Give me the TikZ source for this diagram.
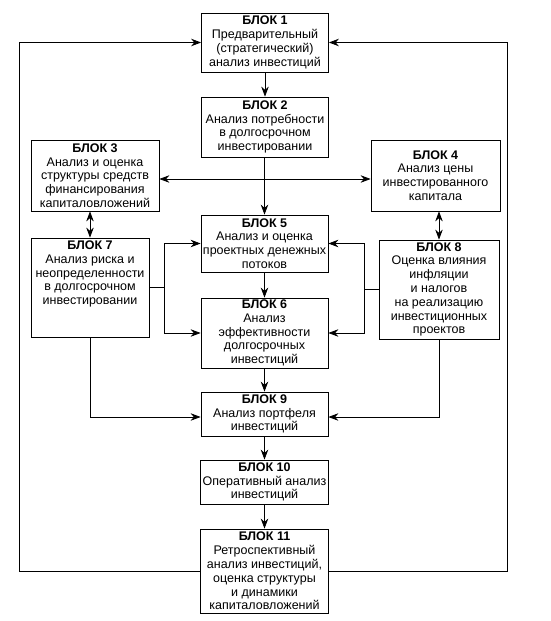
\documentclass[tikz,border=0pt]{standalone}
\usepackage{fontspec}
\setmainfont{Liberation Sans}
\usetikzlibrary{arrows.meta,calc}
\newcommand{\blk}[1]{\textbf{БЛОК #1}}
\tikzset{
  blok/.style={draw,line width=0.8pt,align=center,inner sep=1pt,
    font=\fontsize{12.5}{13.8}\selectfont},
  link/.style={line width=0.8pt}
}
\begin{document}
\begin{tikzpicture}[x=1pt,y=-1pt,>={Stealth[length=10pt,width=7.5pt]}]
  \useasboundingbox (0,0) rectangle (551,621);
  % blocks
  \node[blok,minimum width=127,minimum height=59] (b1) at (265,42.5)
    {\blk{1}\\Предварительный\\(стратегический)\\анализ инвестиций};
  \node[blok,minimum width=127,minimum height=60] (b2) at (265,127)
    {\blk{2}\\Анализ потребности\\в долгосрочном\\инвестировании};
  \node[blok,minimum width=128,minimum height=71] (b3) at (95,175.5)
    {\blk{3}\\Анализ и оценка\\структуры средств\\финансирования\\капиталовложений};
  \node[blok,minimum width=129,minimum height=71] (b4) at (435.5,175.5)
    {\blk{4}\\Анализ цены\\инвестированного\\капитала};
  \node[blok,minimum width=127,minimum height=57] (b5) at (264.5,243.5)
    {\blk{5}\\Анализ и оценка\\проектных денежных\\потоков};
  \node[blok,minimum width=127,minimum height=70] (b6) at (264.5,333)
    {\blk{6}\\Анализ\\эффективности\\долгосрочных\\инвестиций};
  \node[blok,minimum width=118,minimum height=99] (b7) at (90,287.5) {};
  \node[align=center,anchor=north,inner sep=1pt,
    font=\fontsize{12.5}{13.8}\selectfont] (b7t) at ([yshift=-2]b7.north)
    {\blk{7}\\Анализ риска и\\неопределенности\\в долгосрочном\\инвестировании};
  \node[blok,minimum width=120,minimum height=99] (b8) at (439,289.5)
    {\blk{8}\\Оценка влияния\\инфляции\\и налогов\\на реализацию\\инвестиционных\\проектов};
  \node[blok,minimum width=127,minimum height=44] (b9) at (264.5,414)
    {\blk{9}\\Анализ портфеля\\инвестиций};
  \node[blok,minimum width=128,minimum height=44] (b10) at (264.5,482)
    {\blk{10}\\Оперативный анализ\\инвестиций};
  \node[blok,minimum width=128,minimum height=84] (b11) at (264.5,571)
    {\blk{11}\\Ретроспективный\\анализ инвестиций,\\оценка структуры\\и динамики\\капиталовложений};
  % main chain
  \draw[link,->] (b1) -- (b2);
  \draw[link,->] (b2.south -| b5.north) -- (b5.north);
  \draw[link,->] (b5) -- (b6);
  \draw[link,->] (b6) -- (b9);
  \draw[link,->] (b9) -- (b10);
  \draw[link,->] (b10) -- (b11);
  % sides
  \draw[link,<->] ([yshift=-3.5]b3.east) -- ([yshift=-3.5]b4.west);
  \draw[link,<->] (b3.south -| b7.north) -- (b7.north);
  \draw[link,<->] (b4.south -| b8.north) -- (b8.north);
  \draw[link] (b7.east) -- ++(15,0) coordinate (l);
  \draw[link,->] (l) |- (b5.west);
  \draw[link,->] (l) |- (b6.west);
  \draw[link] (b8.west) -- ++(-14,0) coordinate (r);
  \draw[link,->] (r) |- (b5.east);
  \draw[link,->] (r) |- (b6.east);
  \draw[link,->] (b7.south) |- ([yshift=-3]b9.west);
  \draw[link,->] (b8.south) |- ([yshift=-3]b9.east);
  % feedback loop
  \draw[link,->] (b11.west) -- (19,571) |- (b1.west);
  \draw[link,->] (b11.east) -- (507,571) |- (b1.east);
\end{tikzpicture}
\end{document}
